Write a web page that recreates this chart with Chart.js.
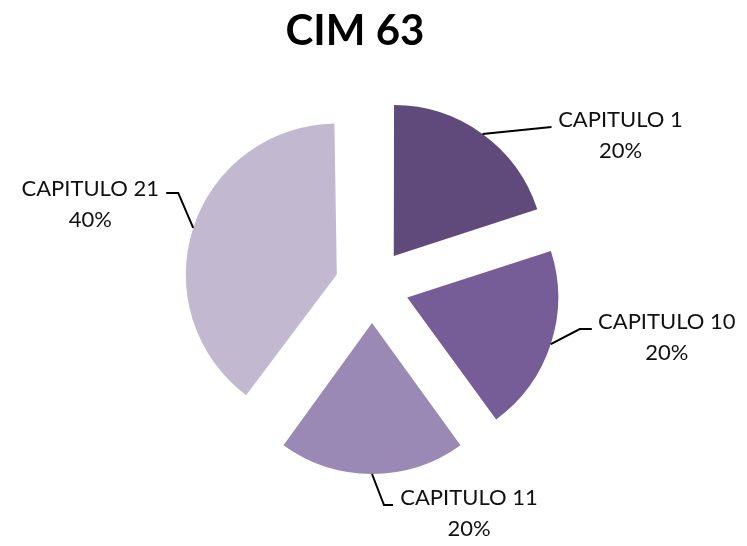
<!DOCTYPE html>
<html>
<head>
<meta charset="utf-8">
<script src="https://cdn.jsdelivr.net/npm/chart.js@4"></script>
<style>
    html, body { margin: 0; padding: 0; background: #fff; }
    #wrap { width: 747px; height: 546px; }
</style>
</head>
<body>
<div id="wrap"><canvas id="pieChart" width="747" height="546"></canvas></div>
<script>
/**
 * CIM 63 - exploded pie
 */

const TITLE = 'CIM 63';
const categories = ['CAPITULO 1', 'CAPITULO 10', 'CAPITULO 11', 'CAPITULO 21'];
const percents = [20, 20, 20, 40];
const sliceColors = ['#604A7B', '#765D97', '#9A89B4', '#C2B9D0'];

// leader line bends and label block centre, relative to the slice's outer mid point
const leaderBends = [
    [[69, -7]],
    [[29, -15], [41, -15]],
    [[12, 31], [21, 31]],
    [[-15, -35], [-27, -35]],
];
const labelOffsets = [[138, 1], [116, -7], [97, 39], [-103, -24]];

const EXPLODE = 37;   // pixel shift of every slice
const RADIUS = 151;
const LABEL_FONT = '22px Lato, "Open Sans", sans-serif';

/**
 * Chart.js v4 shifts an arc by offset/4 but also grows its radius by
 * offset/4 * (1 - sin(circumference)); take that growth back so that
 * every slice keeps the same radius.
 */
function radiusGrowth(circ) {
    return EXPLODE * (1 - Math.sin(Math.min(Math.PI, circ)));
}

const evenRadius = {
    id: 'evenRadius',
    afterDatasetUpdate(chart, args) {
        chart.getDatasetMeta(args.index).data.forEach(arc => {
            arc.outerRadius = RADIUS - radiusGrowth(arc.circumference);
        });
    }
};

/**
 * Title and data labels with leader lines
 */
const pieLabels = {
    id: 'pieLabels',
    afterDraw(chart) {
        const ctx = chart.ctx;
        const meta = chart.getDatasetMeta(0);
        ctx.save();

        // title
        ctx.fillStyle = '#000';
        ctx.font = 'bold 42px Lato, "Open Sans", sans-serif';
        ctx.textAlign = 'center';
        ctx.textBaseline = 'middle';
        ctx.fillText(TITLE, 355, 31);

        meta.data.forEach((arc, i) => {
            const p = arc.getProps(['x', 'y', 'startAngle', 'endAngle']);
            const mid = (p.startAngle + p.endAngle) / 2;
            const ax = p.x + Math.cos(mid) * (RADIUS + EXPLODE);
            const ay = p.y + Math.sin(mid) * (RADIUS + EXPLODE);

            ctx.strokeStyle = '#000';
            ctx.lineWidth = 2;
            ctx.beginPath();
            ctx.moveTo(ax, ay);
            leaderBends[i].forEach(b => ctx.lineTo(ax + b[0], ay + b[1]));
            ctx.stroke();

            const lx = ax + labelOffsets[i][0];
            const ly = ay + labelOffsets[i][1];
            ctx.fillStyle = '#111';
            ctx.font = LABEL_FONT;
            ctx.fillText(categories[i], lx, ly - 15);
            ctx.fillText(percents[i] + '%', lx, ly + 16);
        });
        ctx.restore();
    }
};

new Chart(document.getElementById('pieChart').getContext('2d'), {
    type: 'pie',
    data: {
        labels: categories,
        datasets: [{
            data: percents,
            backgroundColor: sliceColors,
            borderWidth: 0,
            offset: EXPLODE * 4,
        }],
    },
    options: {
        responsive: false,
        animation: false,
        radius: RADIUS,
        layout: { padding: { left: 0, right: 3, top: 60, bottom: 34 } },
        plugins: {
            legend: { display: false },
            tooltip: { enabled: false },
            title: { display: false },
        },
    },
    plugins: [evenRadius, pieLabels],
});
</script>
</body>
</html>
